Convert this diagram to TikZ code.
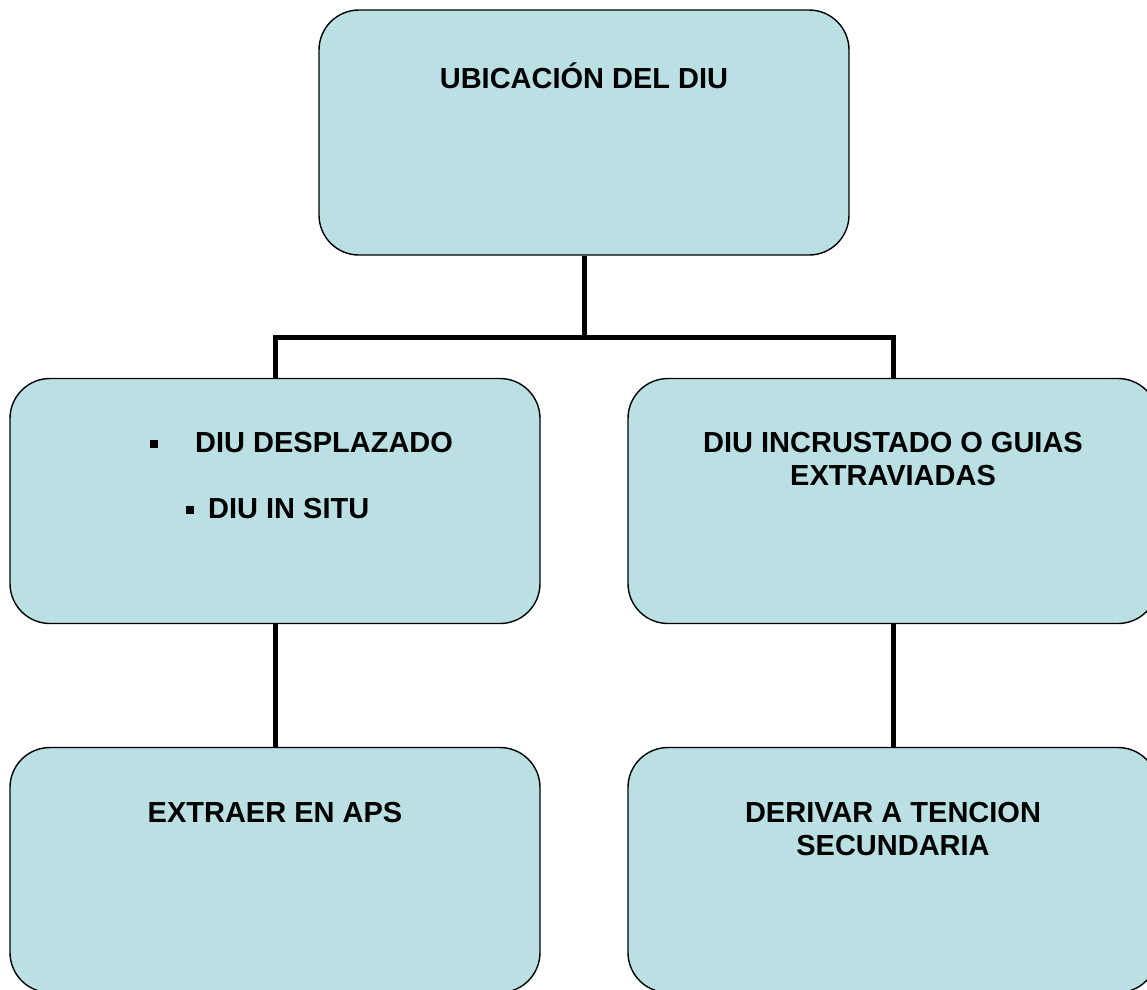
\documentclass[tikz,border=0pt]{standalone}
\usepackage{fontspec}
\setmainfont{Liberation Sans}
\begin{document}
\begin{tikzpicture}[x=1pt,y=-1pt,
  box/.style={draw=black,line width=1.4pt,fill=boxfill,rounded corners=40pt,minimum width=530pt,minimum height=245pt,inner sep=0pt},
  lbl/.style={font=\fontsize{29}{33}\selectfont\bfseries,align=center,inner sep=0pt},
  conn/.style={line width=5pt}]
\definecolor{boxfill}{HTML}{BAE0E3}
\useasboundingbox (0,0) rectangle (1147,989);
\node[box] (top) at (584,132.5) {};
\node[box] (lm) at (275,501) {};
\node[box] (rm) at (893,501) {};
\node[box] (lb) at (275,870) {};
\node[box] (rb) at (893,870) {};
\node[lbl] (t1) at (584,76) {UBICACIÓN DEL DIU};
\node[lbl,anchor=west] (l1) at (150,443) {\raisebox{5pt}{\rule{8pt}{8pt}}\hspace{37pt}DIU DESPLAZADO};
\node[lbl,anchor=west] (l2) at (186,509) {\raisebox{5pt}{\rule{8pt}{8pt}}\hspace{14pt}DIU IN SITU};
\node[lbl] (r1) at (893,459.5) {DIU INCRUSTADO O GUIAS\\EXTRAVIADAS};
\node[lbl] (b1) at (275,812) {EXTRAER EN APS};
\node[lbl] (b2) at (893,828.5) {DERIVAR A TENCION\\SECUNDARIA};
\coordinate (j) at (584,337);
\draw[conn] (top.south) -- (j);
\draw[conn] (lm.north) |- (j) -| (rm.north);
\draw[conn] (lm.south) -- (lb.north);
\draw[conn] (rm.south) -- (rb.north);
\end{tikzpicture}
\end{document}
